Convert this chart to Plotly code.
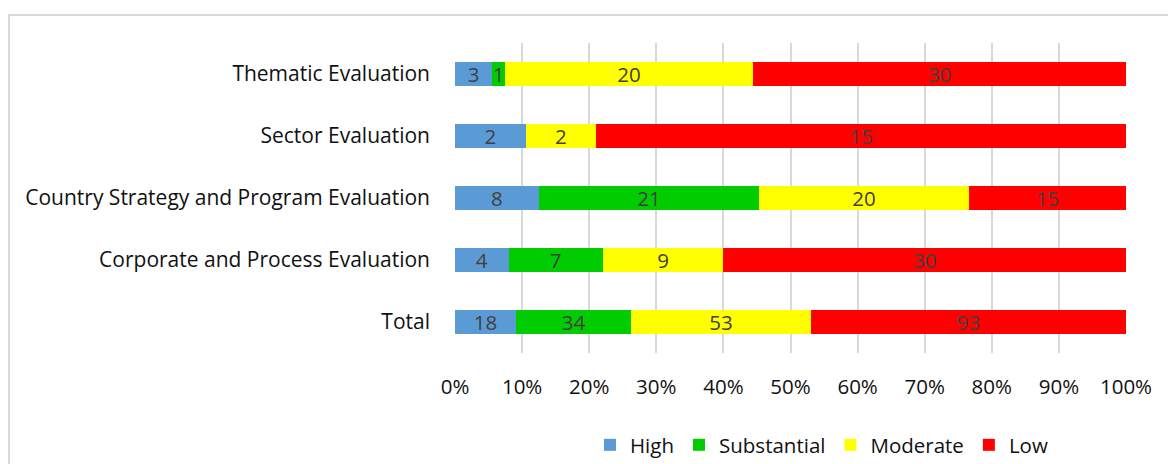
import plotly.graph_objects as go

categories = [
    "Thematic Evaluation",
    "Sector Evaluation",
    "Country Strategy and Program Evaluation",
    "Corporate and Process Evaluation",
    "Total",
]
series_names = ["High", "Substantial", "Moderate", "Low"]
high = [3, 2, 8, 4, 18]
substantial = [1, 0, 21, 7, 34]
moderate = [20, 2, 20, 9, 53]
low = [30, 15, 15, 30, 93]
colors = ["#5B9BD5", "#00CC00", "#FFFF00", "#FF0000"]
x_ticks = list(range(0, 101, 10))

FONT = "Open Sans"
TEXT = "#404040"
LABEL = "#111111"

fig = go.Figure()
for name, vals, col in zip(series_names, [high, substantial, moderate, low], colors):
    fig.add_trace(go.Bar(
        y=categories,
        x=vals,
        name=name,
        orientation="h",
        marker=dict(color=col, line=dict(width=0)),
        text=[str(v) if v else "" for v in vals],
        textposition="inside",
        insidetextanchor="middle",
        textangle=0,
        constraintext="none",
        textfont=dict(family=FONT, size=20.5, color=TEXT),
        hoverinfo="skip",
    ))

L, R, T, B = 455, 42, 43, 111
W, H = 1168, 464
pw, ph = W - L - R, H - T - B

def px_x(p):
    return (p - L) / pw

def px_y(p):
    return 1 - (p - T) / ph

fig.update_layout(
    barmode="stack",
    barnorm="percent",
    bargap=0.61,
    width=W,
    height=H,
    margin=dict(l=L, r=R, t=T, b=B, autoexpand=False),
    paper_bgcolor="white",
    plot_bgcolor="white",
    font=dict(family=FONT, size=20.5, color=LABEL),
    showlegend=True,
    legend=dict(
        orientation="h",
        x=px_x(590),
        xanchor="left",
        y=px_y(445),
        yanchor="middle",
        font=dict(family=FONT, size=20.5, color=LABEL),
        traceorder="normal",
        itemwidth=30,
        tracegroupgap=0,
    ),
    xaxis=dict(
        range=[0, 100],
        tickvals=x_ticks,
        ticktext=[f"{v}%" for v in x_ticks],
        showgrid=True,
        gridcolor="#D9D9D9",
        gridwidth=2,
        zeroline=False,
        showline=False,
        ticks="",
        ticklabelstandoff=19,
        tickfont=dict(family=FONT, size=20.5, color=LABEL),
        fixedrange=True,
    ),
    yaxis=dict(
        autorange="reversed",
        showgrid=False,
        zeroline=False,
        showline=False,
        ticks="",
        ticklabelstandoff=24,
        tickfont=dict(family=FONT, size=21, color=LABEL),
        fixedrange=True,
    ),
    shapes=[
        dict(
            type="rect", xref="paper", yref="paper",
            x0=px_x(9), x1=px_x(1180), y0=px_y(480), y1=px_y(15),
            line=dict(color="#D9D9D9", width=2), fillcolor="rgba(0,0,0,0)",
            layer="below",
        )
    ],
)

fig.write_html("out.html", config={"displayModeBar": False})
